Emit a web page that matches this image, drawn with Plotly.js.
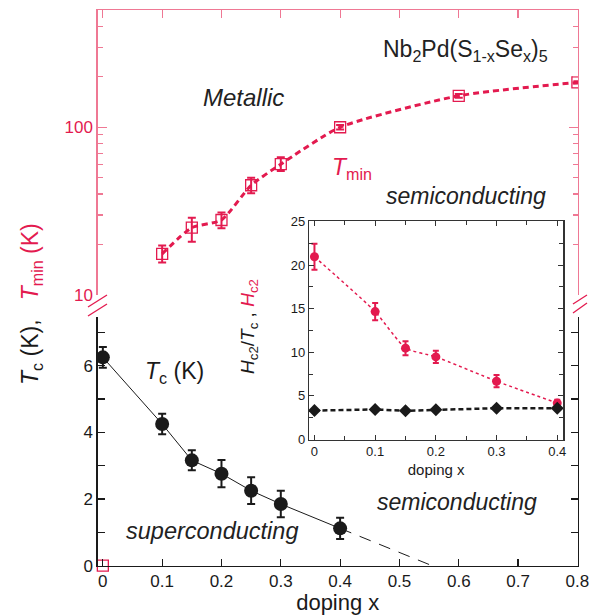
<!DOCTYPE html>
<html><head><meta charset="utf-8">
<script src="https://cdn.plot.ly/plotly-3.0.1.min.js"></script>
<style>html,body{margin:0;padding:0;background:#fff}#chart{width:602px;height:615px}</style>
</head><body><div id="chart"></div>
<script>
// ---- data ----
const tminX = [0.1, 0.15, 0.2, 0.25, 0.3, 0.4, 0.6, 0.8];
const tminY = [17.6, 25.2, 28.0, 45.1, 60.2, 100, 154, 185];
const tminErrPlus = [2.1, 3.7, 3.0, 4.9, 6.0, 3, 4, 3];
const tminErrMinus = [2.0, 4.4, 3.0, 4.7, 5.4, 3, 4, 3];
const tminZeroX = [0];
const tminZeroY = [0];
const tcX = [0, 0.1, 0.15, 0.2, 0.25, 0.3, 0.4];
const tcY = [6.25, 4.25, 3.16, 2.76, 2.25, 1.85, 1.12];
const tcErr = [0.31, 0.31, 0.3, 0.41, 0.4, 0.4, 0.32];
const tcExtX = [0.4, 0.555];
const tcExtY = [1.12, 0];
const insetX = [0, 0.1, 0.15, 0.2, 0.3, 0.4];
const hc2 = [20.95, 14.66, 10.47, 9.47, 6.68, 4.17];
const hc2Err = [1.5, 1.0, 0.8, 0.7, 0.7, 0.4];
const ratio = [3.32, 3.44, 3.29, 3.40, 3.59, 3.59];
const ratioErr = [0.3, 0.3, 0.3, 0.3, 0.3, 0.3];
const mainXTicks = [0, 0.1, 0.2, 0.3, 0.4, 0.5, 0.6, 0.7, 0.8];
const mainXLabels = ['0', '0.1', '0.2', '0.3', '0.4', '0.5', '0.6', '0.7', '0.8'];
const tcTicks = [0, 1, 2, 3, 4, 5, 6, 7];
const tcLabels = ['0', '', '2', '', '4', '', '6', ''];
const tminMajor = [10, 100];
const tminMinor = [20, 30, 40, 50, 60, 70, 80, 90, 200, 300, 400];
const insetXTicks = [0, 0.1, 0.2, 0.3, 0.4];
const insetXLabels = ['0', '0.1', '0.2', '0.3', '0.4'];

// ---- styling ----
const W = 602, H = 615;
const px = x => x / W, py = y => 1 - y / H;
const PINK = '#e31a4f', PINKAX = '#ef7894', BLK = '#1a1a1a';
const FONT = 'Liberation Sans, Arial, Helvetica, sans-serif';

const traces = [
  {x: tminX, y: tminY, xaxis: 'x2', yaxis: 'y2', type: 'scatter', mode: 'lines+markers',
   line: {color: PINK, width: 3, dash: '6px,4px', shape: 'spline', smoothing: 0.6},
   marker: {symbol: 'square-open', size: 11, color: PINK, line: {width: 1.3, color: PINK}},
   error_y: {type: 'data', symmetric: false, array: tminErrPlus, arrayminus: tminErrMinus, color: PINK, thickness: 2, width: 4}},
  {x: tminZeroX, y: tminZeroY, xaxis: 'x', yaxis: 'y', type: 'scatter', mode: 'markers', cliponaxis: false,
   marker: {symbol: 'square-open', size: 11, color: PINK, line: {width: 1.3, color: PINK}}},
  {x: tcExtX, y: tcExtY, xaxis: 'x', yaxis: 'y', type: 'scatter', mode: 'lines',
   line: {color: BLK, width: 1, dash: '12px,9px'}},
  {x: tcX, y: tcY, xaxis: 'x', yaxis: 'y', type: 'scatter', mode: 'lines+markers',
   line: {color: BLK, width: 1},
   marker: {symbol: 'circle', size: 14, color: BLK},
   error_y: {type: 'data', array: tcErr, color: BLK, thickness: 2, width: 4}},
  {x: insetX, y: hc2, xaxis: 'x3', yaxis: 'y3', type: 'scatter', mode: 'lines+markers',
   line: {color: PINK, width: 1.5, dash: '3px,3px', shape: 'spline', smoothing: 0.5},
   marker: {symbol: 'circle', size: 9, color: PINK},
   error_y: {type: 'data', array: hc2Err, color: PINK, thickness: 2, width: 3}},
  {x: insetX, y: ratio, xaxis: 'x3', yaxis: 'y3', type: 'scatter', mode: 'lines+markers',
   line: {color: BLK, width: 2.5, dash: '5px,3px'},
   marker: {symbol: 'diamond', size: 10, color: BLK},
   error_y: {type: 'data', array: ratioErr, color: BLK, thickness: 1.5, width: 2}}
];

const brk = (x0, y0, x1, y1) => ({type: 'line', xref: 'paper', yref: 'paper',
  x0: px(x0), y0: py(y0), x1: px(x1), y1: py(y1), line: {color: PINK, width: 1.3}});

const ann = (x, y, text, size, color, extra) => Object.assign({xref: 'paper', yref: 'paper',
  x: px(x), y: py(y), text: text, showarrow: false, xanchor: 'center', yanchor: 'middle',
  font: {family: FONT, size: size, color: color || BLK}}, extra || {});

const layout = {
  width: W, height: H, margin: {l: 0, r: 0, t: 0, b: 0},
  paper_bgcolor: '#fff', plot_bgcolor: 'rgba(0,0,0,0)', showlegend: false,
  font: {family: FONT, color: BLK},
  xaxis: {domain: [px(97.5), px(578)], range: [-0.009, 0.801], anchor: 'y',
    tickmode: 'array', tickvals: mainXTicks, ticktext: mainXLabels,
    ticks: 'inside', ticklen: 7, tickwidth: 1.2, tickcolor: BLK,
    showline: true, linecolor: BLK, linewidth: 1.2, mirror: false,
    showgrid: false, zeroline: false, tickfont: {size: 17, color: BLK},
    title: {text: 'doping x', font: {size: 22, color: BLK}, standoff: 4}},
  yaxis: {domain: [py(565.7), py(317)], range: [0, 7.46], anchor: 'x',
    tickmode: 'array', tickvals: tcTicks, ticktext: tcLabels,
    ticks: 'inside', ticklen: 7, tickwidth: 1.2, tickcolor: BLK,
    showline: true, linecolor: BLK, linewidth: 1.2, mirror: 'ticks',
    showgrid: false, zeroline: false, tickfont: {size: 17, color: BLK}},
  xaxis2: {domain: [px(97.5), px(578)], range: [-0.009, 0.801], anchor: 'y2', side: 'top',
    tickmode: 'array', tickvals: mainXTicks, showticklabels: false,
    ticks: 'inside', ticklen: 8, tickwidth: 1.2, tickcolor: PINKAX,
    showline: true, linecolor: PINKAX, linewidth: 1.2, mirror: false,
    showgrid: false, zeroline: false},
  yaxis2: {domain: [py(295), py(10)], type: 'log', range: [1, Math.log10(500)], anchor: 'x2',
    tickmode: 'array', tickvals: tminMajor, ticktext: ['10', '100'],
    ticks: 'inside', ticklen: 9, tickwidth: 1.2, tickcolor: PINKAX,
    minor: {tickmode: 'array', tickvals: tminMinor, ticks: 'inside', ticklen: 5, tickwidth: 1.1, tickcolor: PINKAX},
    showline: true, linecolor: PINKAX, linewidth: 1.2, mirror: 'ticks',
    showgrid: false, zeroline: false, tickfont: {size: 17, color: PINK}},
  xaxis3: {domain: [px(309), px(563.3)], range: [-0.009, 0.41], anchor: 'y3',
    tickmode: 'array', tickvals: insetXTicks, ticktext: insetXLabels,
    ticks: 'inside', ticklen: 5, tickwidth: 1, tickcolor: '#333',
    minor: {dtick: 0.05, tick0: 0, ticks: 'inside', ticklen: 4, tickcolor: '#333'},
    showline: true, linecolor: '#333', linewidth: 1.2, mirror: 'ticks',
    showgrid: false, zeroline: false, tickfont: {size: 13, color: BLK},
    title: {text: 'doping x', font: {size: 15, color: BLK}, standoff: 6}},
  yaxis3: {domain: [py(439.5), py(221.4)], range: [0, 25], anchor: 'x3',
    tickmode: 'linear', tick0: 0, dtick: 5,
    ticks: 'inside', ticklen: 5, tickwidth: 1, tickcolor: '#333',
    minor: {dtick: 2.5, tick0: 0, ticks: 'inside', ticklen: 4, tickcolor: '#333'},
    showline: true, linecolor: '#333', linewidth: 1.2, mirror: 'ticks',
    showgrid: false, zeroline: false, tickfont: {size: 13, color: BLK}},
  shapes: [
    brk(88, 307, 107, 295), brk(88, 316, 107, 304),
    brk(573, 304, 587, 295), brk(573, 313, 587, 303)
  ],
  annotations: [
    ann(465, 50, 'Nb<sub>2</sub>Pd(S<sub>1-x</sub>Se<sub>x</sub>)<sub>5</sub>', 23, '#222'),
    ann(243, 97, '<i>Metallic</i>', 24, '#222'),
    ann(352, 168, '<i>T</i><sub>min</sub>', 23, PINK),
    ann(466, 196, '<i>semiconducting</i>', 23, '#222'),
    ann(174, 372, '<i>T</i><sub>c</sub> (K)', 23, BLK),
    ann(212, 531, '<i>superconducting</i>', 23.5, '#222'),
    ann(457, 502, '<i>semiconducting</i>', 23, '#222'),
    ann(249, 327, '<i>H</i><sub>c2</sub>/<i>T</i><sub>c</sub> , <span style="color:' + PINK + '"><i>H</i><sub>c2</sub></span>', 19, BLK, {textangle: -90}),
    ann(31, 304, '<i>T</i><sub>c</sub> (K),   <span style="color:' + PINK + '"><i>T</i><sub>min</sub> (K)</span>', 23, BLK, {textangle: -90})
  ]
};

Plotly.newPlot('chart', traces, layout, {displayModeBar: false, staticPlot: true});
</script></body></html>
